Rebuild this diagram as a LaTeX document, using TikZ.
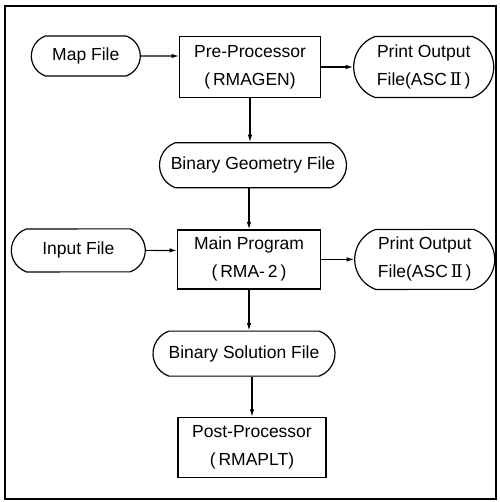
\documentclass[tikz,border=0pt]{standalone}
\usepackage{fontspec}
\setmainfont{Liberation Sans}
\newfontfamily\romfont{DejaVu Serif}
\usetikzlibrary{positioning,arrows.meta,shapes.misc}

\newcommand{\ascii}{File(ASC\,{\romfont Ⅱ}\,)}

\begin{document}
\begin{tikzpicture}[font=\fontsize{17.5}{28}\selectfont, line width=1.2pt,
  box/.style={draw=black, align=center, inner sep=0pt},
  pill/.style={draw=black, rounded rectangle, rounded rectangle arc length=140, align=center, inner sep=0pt},
  arr/.style={-{Latex[length=2.6mm, width=1.6mm]}, black}]
\useasboundingbox (0pt,0pt) rectangle (499pt,-502pt);
\draw[line width=1.5pt] (5pt,-6pt) rectangle (496pt,-499pt);
\node[box, minimum width=141pt, minimum height=61pt] (pre) at (250pt,-67pt) {Pre-Processor\\(\,RMAGEN)};
\node[pill, minimum width=109pt, minimum height=40pt, left=38pt of pre, yshift=11pt] (map) {Map File};
\node[pill, minimum width=140pt, minimum height=61pt, right=32pt of pre] (prt1) {Print Output\\\ascii};
\node[pill, minimum width=187pt, minimum height=45pt, below=44pt of pre, xshift=3pt] (geo) {Binary Geometry File};
\node[box, minimum width=143pt, minimum height=59pt, below=41pt of geo, xshift=-4pt] (main) {Main Program\\(\,RMA-\,2\,)};
\node[pill, minimum width=134pt, minimum height=43pt, left=31pt of main, yshift=9pt] (inp) {Input File};
\node[pill, minimum width=140pt, minimum height=60pt, right=33pt of main] (prt2) {Print Output\\\ascii};
\node[pill, minimum width=182pt, minimum height=45pt, below=41pt of main, xshift=-5pt] (sol) {Binary Solution File};
\node[box, minimum width=148pt, minimum height=60pt, below=40pt of sol, xshift=8pt] (post) {Post-Processor\\(\,RMAPLT)};
% connectors
\draw[arr] (map) -- (map -| pre.west);
\draw[arr] (pre) -- (prt1);
\draw[arr] (pre.south) -- (pre.south |- geo.north);
\draw[arr] (main.north |- geo.south) -- (main.north);
\draw[arr] (inp) -- (inp -| main.west);
\draw[arr] (main) -- (prt2);
\draw[arr] (main.south) -- (main.south |- sol.north);
\draw[arr] (post.north |- sol.south) -- (post.north);
\end{tikzpicture}
\end{document}
